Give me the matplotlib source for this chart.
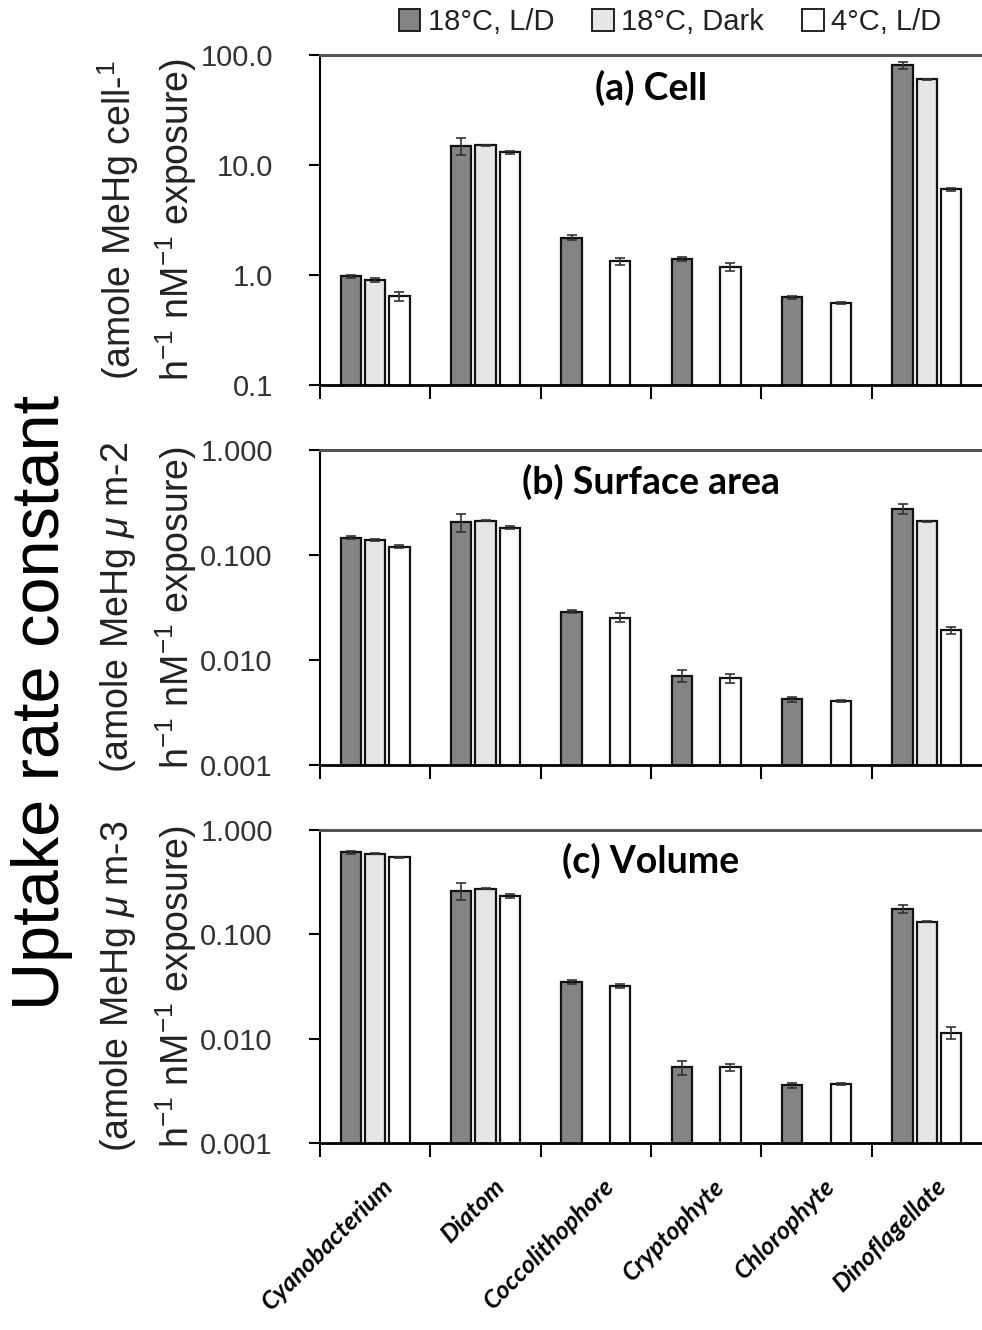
import numpy as np
import matplotlib
matplotlib.use('Agg')
from matplotlib import pyplot as plt
from matplotlib.patches import Patch
from matplotlib.ticker import FixedLocator, FixedFormatter, NullLocator

plt.rcParams['font.family'] = ['Liberation Sans', 'DejaVu Sans']
plt.rcParams['mathtext.fontset'] = 'custom'
plt.rcParams['mathtext.rm'] = 'Liberation Sans'
plt.rcParams['mathtext.it'] = 'Liberation Sans:italic'

# --- data --- #
categories = ['Cyanobacterium', 'Diatom', 'Coccolithophore', 'Cryptophyte', 'Chlorophyte', 'Dinoflagellate']
series_names = ['18°C, L/D', '18°C, Dark', '4°C, L/D']
nan = np.nan

# (a) cell
cell_ld18 = [0.97, 14.9, 2.18, 1.40, 0.625, 81.0]
cell_dark18 = [0.90, 15.1, nan, nan, nan, 60.0]
cell_ld4 = [0.64, 13.0, 1.33, 1.19, 0.555, 6.0]
cell_ld18_err = [0.04, 2.6, 0.12, 0.06, 0.02, 6.0]
cell_dark18_err = [0.03, 0.2, nan, nan, nan, 0.5]
cell_ld4_err = [0.06, 0.4, 0.10, 0.10, 0.01, 0.15]

# (b) surface area
surf_ld18 = [0.146, 0.205, 0.0288, 0.00705, 0.00422, 0.274]
surf_dark18 = [0.139, 0.212, nan, nan, nan, 0.209]
surf_ld4 = [0.120, 0.182, 0.0253, 0.00668, 0.0041, 0.0192]
surf_ld18_err = [0.005, 0.04, 0.001, 0.0009, 0.0002, 0.03]
surf_dark18_err = [0.002, 0.002, nan, nan, nan, 0.002]
surf_ld4_err = [0.004, 0.006, 0.0025, 0.0006, 0.0001, 0.0015]

# (c) volume
vol_ld18 = [0.615, 0.262, 0.0351, 0.00531, 0.0036, 0.176]
vol_dark18 = [0.593, 0.274, nan, nan, nan, 0.132]
vol_ld4 = [0.547, 0.231, 0.032, 0.0053, 0.00368, 0.0114]
vol_ld18_err = [0.02, 0.05, 0.0015, 0.0008, 0.0002, 0.015]
vol_dark18_err = [0.005, 0.003, nan, nan, nan, 0.002]
vol_ld4_err = [0.005, 0.01, 0.0012, 0.0004, 0.0001, 0.0015]

panels = [
    ('(a) Cell', [cell_ld18, cell_dark18, cell_ld4], [cell_ld18_err, cell_dark18_err, cell_ld4_err],
     [0.1, 1, 10, 100], ['0.1', '1.0', '10.0', '100.0'], '(amole MeHg cell-$^{1}$'),
    ('(b) Surface area', [surf_ld18, surf_dark18, surf_ld4], [surf_ld18_err, surf_dark18_err, surf_ld4_err],
     [0.001, 0.01, 0.1, 1], ['0.001', '0.010', '0.100', '1.000'], '(amole MeHg $\\mathit{\\mu}$ m-2'),
    ('(c) Volume', [vol_ld18, vol_dark18, vol_ld4], [vol_ld18_err, vol_dark18_err, vol_ld4_err],
     [0.001, 0.01, 0.1, 1], ['0.001', '0.010', '0.100', '1.000'], '(amole MeHg $\\mathit{\\mu}$ m-3'),
]

colors = ['#848484', '#e6e6e6', '#ffffff']
offsets = [-0.22, 0.0, 0.22]
bar_w = 0.185

# axes boxes in pixels (top, bottom)
W, H = 982, 1330
boxes = [(55, 385), (450, 765), (830, 1143)]
left_px = 320

fig = plt.figure(figsize=(W / 100, H / 100), dpi=100)

x = np.arange(len(categories)) + 0.5
for i, (title, vals, errs, yt, ytl, ylab1) in enumerate(panels):
    top, bot = boxes[i]
    ax = fig.add_axes([left_px / W, 1 - bot / H, 1 - left_px / W, (bot - top) / H])
    for s in range(3):
        v = np.array(vals[s], dtype=float)
        e = np.array(errs[s], dtype=float)
        ax.bar(x + offsets[s], v, bar_w, color=colors[s], edgecolor='#111111', linewidth=1.6, zorder=2)
        ax.errorbar(x + offsets[s], v, yerr=e, fmt='none', ecolor='#333333', elinewidth=1.2,
                    capsize=3.5, capthick=1.2, zorder=3)
    ax.set_yscale('log')
    ax.set_ylim(yt[0], yt[-1])
    ax.yaxis.set_major_locator(FixedLocator(yt))
    ax.yaxis.set_major_formatter(FixedFormatter(ytl))
    ax.yaxis.set_minor_locator(NullLocator())
    ax.set_xlim(0, 6)
    ax.set_xticks(range(0, 6))
    ax.set_xticklabels([])
    ax.tick_params(axis='y', direction='out', length=8, width=1.5, pad=26, labelsize=21, labelcolor='#333333')
    ax.tick_params(axis='x', direction='out', length=10, width=1.5)
    ax.spines['right'].set_visible(False)
    ax.spines['top'].set_color('#555555')
    ax.spines['top'].set_linewidth(2.2)
    ax.spines['left'].set_linewidth(1.5)
    ax.spines['bottom'].set_linewidth(2.0)
    ax.text(0.5, 0.9, title, transform=ax.transAxes, ha='center', va='center', fontsize=27,
            fontweight='bold', family=['Lato', 'DejaVu Sans'])
    yc = 1 - (top + bot) / 2 / H
    fig.text(118 / W, yc, ylab1, rotation=90, ha='center', va='center', fontsize=27, color='#222222')
    fig.text(176 / W, yc, 'h$^{-1}$ nM$^{-1}$ exposure)', rotation=90, ha='center', va='center',
             fontsize=27, color='#222222')
    if i == 2:
        for xi, name in zip(x, categories):
            ax.text(xi + 0.06, -0.1, name, transform=ax.get_xaxis_transform(), rotation=45,
                    ha='right', va='top', rotation_mode='anchor', fontsize=18,
                    fontweight='bold', fontstyle='italic', family=['Lato', 'DejaVu Sans'])

fig.text(42 / W, 1 - 702 / H, 'Uptake rate constant', rotation=90, ha='center', va='center', fontsize=48)

handles = [Patch(facecolor=c, edgecolor='#111111', linewidth=1.3) for c in colors]
fig.legend(handles, series_names, loc='center', bbox_to_anchor=(670 / W, 1 - 22 / H), ncol=3,
           frameon=False, fontsize=21, handlelength=0.75, handleheight=0.75, handletextpad=0.25,
           columnspacing=1.3, labelcolor='#222222')

fig.savefig('out.png', dpi=100)
